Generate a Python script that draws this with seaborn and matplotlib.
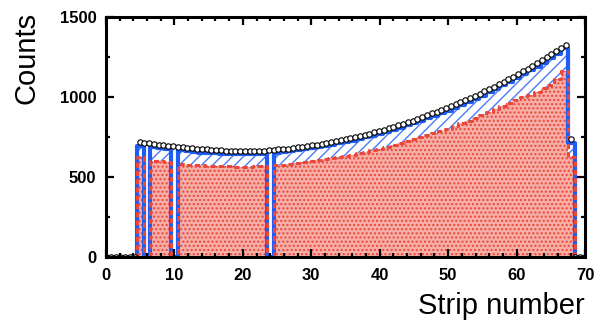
import numpy as np
import pandas as pd
import matplotlib
matplotlib.use("Agg")
import matplotlib.pyplot as plt
import seaborn as sns
from matplotlib.ticker import MultipleLocator

# ---------------- data ----------------
strips = list(range(70))
blue_counts = [0, 0, 0, 0, 0, 695, 0, 686, 680, 675, 0,
               666, 660, 656, 653, 650, 647, 645, 644, 643, 642, 642, 643, 644, 0,
               651, 656, 661, 667, 674, 680, 687, 694, 701, 710, 718, 728, 738, 748, 759,
               770, 782, 794, 808, 822, 836, 851, 866, 882, 898, 915, 933, 951, 970, 989,
               1009, 1030, 1051, 1073, 1095, 1118, 1142, 1166, 1190, 1215, 1241, 1268, 1305,
               712, 0]
red_counts = [0, 0, 0, 0, 0, 625, 0, 602, 598, 594, 0,
              582, 578, 575, 572, 570, 568, 567, 566, 565, 565, 565, 566, 567, 0,
              572, 576, 581, 586, 592, 598, 604, 610, 617, 624, 631, 640, 649, 658, 667,
              677, 688, 699, 710, 722, 735, 748, 761, 775, 789, 803, 819, 835, 852, 869,
              886, 905, 924, 943, 962, 980, 997, 1015, 1034, 1054, 1076, 1110, 1162,
              625, 0]
# model points (one every 0.7 strip)
circle_counts = [0, 0, 0, 0, 0, 0, 0,
                 718, 714, 710, 706, 702, 698, 695, 691, 688, 685,
                 682, 679, 676, 674, 672, 670, 668, 666, 665, 664,
                 663, 662, 662, 662, 663, 664, 665, 667, 669, 672,
                 675, 678, 682, 686, 690, 694, 697, 702, 707, 712,
                 717, 723, 729, 735, 742, 749, 756, 763, 771, 779,
                 787, 796, 805, 814, 823, 833, 843, 853, 864, 875,
                 886, 897, 909, 920, 932, 942, 955, 968, 981, 994,
                 1007, 1021, 1035, 1050, 1065, 1080, 1095, 1111, 1127, 1143,
                 1160, 1177, 1194, 1211, 1229, 1247, 1266, 1285, 1305, 1325,
                 735, 0, 0, 0]
circle_step = 0.7
x_ticks = [0, 10, 20, 30, 40, 50, 60, 70]
y_ticks = [0, 500, 1000, 1500]

BLUE = "#1f5cf5"
RED = "#e8473a"
PINK = "#f6aea6"

sns.set_theme(style="ticks")
plt.rcParams["font.family"] = ["Liberation Sans", "DejaVu Sans"]
plt.rcParams["hatch.linewidth"] = 1.0

fig = plt.figure(figsize=(6.10, 3.22), dpi=100)
ax = fig.add_axes([106 / 610, 65 / 322, 479 / 610, 240 / 322])

df = pd.DataFrame({"strip": strips, "blue": blue_counts, "red": red_counts})
circ = pd.DataFrame({"x": np.arange(len(circle_counts)) * circle_step, "y": circle_counts})
hist_kw = dict(data=df, x="strip", binwidth=1, binrange=(-0.5, 69.5), element="step", ax=ax)

# hatched blue area
sns.histplot(weights="blue", fill=True, color=BLUE, alpha=1, linewidth=0, **hist_kw)
bf = ax.collections[-1]
bf.set_facecolor("white")
bf.set_edgecolor("#4a7cf7")
bf.set_linewidth(0)
bf.set_hatch("///")
bf.set_zorder(1)

# red dotted area
sns.histplot(weights="red", fill=True, color=RED, alpha=1, linewidth=0, **hist_kw)
rf = ax.collections[-1]
rf.set_facecolor(PINK)
rf.set_edgecolor(RED)
rf.set_linewidth(0)
rf.set_hatch("....")
rf.set_zorder(1.1)

# outlines
sns.histplot(weights="blue", fill=False, color=BLUE, linewidth=3.0, **hist_kw)
ax.lines[-1].set_zorder(2)
sns.histplot(weights="red", fill=False, color=RED, linewidth=2.2,
             linestyle=(0, (1.7, 1.0)), **hist_kw)
ax.lines[-1].set_zorder(2.1)

# model circles
sns.scatterplot(data=circ, x="x", y="y", marker="o", s=15, facecolor="white",
                edgecolor="black", linewidth=0.8, zorder=3, ax=ax)

ax.set_xlim(0, 70)
ax.set_ylim(0, 1500)
ax.set_xticks(x_ticks)
ax.set_yticks(y_ticks)
ax.xaxis.set_minor_locator(MultipleLocator(2))
ax.yaxis.set_minor_locator(MultipleLocator(250))
ax.tick_params(which="both", direction="in", top=True, right=True, width=1.6, color="black")
ax.tick_params(which="major", length=6)
ax.tick_params(which="minor", length=3)
ax.tick_params(axis="x", pad=8)
ax.tick_params(axis="y", pad=7)
for lab in ax.get_xticklabels() + ax.get_yticklabels():
    lab.set_fontweight("bold")
    lab.set_fontsize(12)
    lab.set_color("black")
for s in ax.spines.values():
    s.set_visible(True)
    s.set_linewidth(2.2)
    s.set_color("black")
    s.set_zorder(10)
ax.xaxis.set_zorder(9)
ax.yaxis.set_zorder(9)

ax.set_xlabel("Strip number", fontsize=21, color="black")
ax.set_ylabel("Counts", fontsize=21, color="black")
ax.xaxis.label.set_ha("right")
ax.xaxis.label.set_va("top")
ax.xaxis.set_label_coords(1.0, -0.145)
ylab = ax.yaxis.label
ylab.set_rotation_mode("default")
ylab.set_ha("center")
ylab.set_va("top")
ax.yaxis.set_label_coords(-0.167, 1.02)

fig.savefig("out.png", dpi=100)
